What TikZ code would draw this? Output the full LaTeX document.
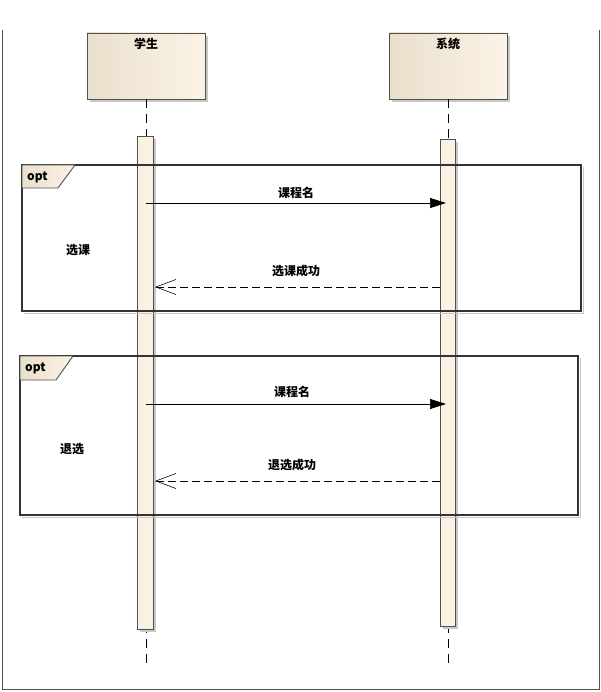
\documentclass[tikz,border=0pt]{standalone}
\usepackage{fontspec}
\newfontfamily\cjk{Noto Sans CJK SC}
\usetikzlibrary{arrows.meta}
\definecolor{hdrL}{HTML}{EADFCC}
\definecolor{hdrR}{HTML}{FBF3E6}
\definecolor{barfill}{HTML}{FBF1E2}
\definecolor{shadowc}{HTML}{C8C8C8}
\definecolor{framec}{HTML}{505050}
\tikzset{
  txt/.style={font=\cjk\bfseries\fontsize{12}{14}\selectfont, inner sep=0pt},
  hdr/.style={draw=framec, line width=0.9pt, left color=hdrL, right color=hdrR,
    minimum width=118pt, minimum height=66pt, inner sep=0pt},
  actbar/.style={draw=framec, line width=0.9pt, fill=barfill, minimum width=16pt, inner sep=0pt},
  lifeline/.style={dashed, dash pattern=on 9pt off 6pt, line width=0.7pt},
  frag/.style={draw=black!80, line width=1.3pt},
  tab/.style={draw=framec, line width=0.9pt, left color=hdrL, right color=hdrR},
  callmsg/.style={line width=0.7pt, -{Triangle[length=16pt,width=10pt]}},
  retmsg/.style={line width=0.7pt, dash pattern=on 8pt off 4pt, -{Straight Barb[length=20pt,width=15pt,line width=0.6pt]}},
}
\begin{document}
\begin{tikzpicture}[x=1pt,y=-1pt]
\useasboundingbox (0,0) rectangle (601,692);
% outer frame
\draw[framec, line width=1pt] (2,30) -- (2,689) -- (599,689) -- (599,30);
% header shadows
\fill[shadowc] (90,36) rectangle (208,102);
\fill[shadowc] (392,36) rectangle (510,102);
% headers
\node[hdr] (stu) at (146,66) {};
\node[txt, below=5pt] (stulbl) at (stu.north) {学生};
\node[hdr] (sys) at (448,66) {};
\node[txt, below=5pt] (syslbl) at (sys.north) {系统};
% lifelines
\coordinate (stuend) at (146,667);
\coordinate (sysend) at (448,667);
\draw[lifeline] (stu.south) -- (stuend);
\draw[lifeline] (sys.south) -- (sysend);
% activation shadows
\fill[shadowc] (140,139) rectangle (156,632);
\fill[shadowc] (443,142) rectangle (458,629);
% activation bars
\node[actbar, minimum height=493pt] (stubar) at (145,382.5) {};
\node[actbar, minimum width=15pt, minimum height=487pt] (sysbar) at (447.5,382.5) {};
% fragment 1
\draw[shadowc, line width=0.8pt] (24,313) -- (583,313) -- (583,167);
\draw[frag] (22,165) rectangle (581,311);
\draw[tab] (22,165) -- (75,165) -- (58,188) -- (22,188) -- cycle;
\node[txt, anchor=west] (opt1) at (27,177) {opt};
\node[txt] (g1) at (78,250) {选课};
% fragment 2
\draw[shadowc, line width=0.8pt] (22,517) -- (580,517) -- (580,358);
\draw[frag] (20,356) rectangle (578,515);
\draw[tab] (20,356) -- (73,356) -- (56,380) -- (20,380) -- cycle;
\node[txt, anchor=west] (opt2) at (25,368) {opt};
\node[txt] (g2) at (72,449) {退选};
% messages 1
\coordinate (m1s) at (146,203);
\coordinate (m1e) at (446,203);
\draw[callmsg] (m1s) -- (m1e);
\node[txt] (l1) at (296,193) {课程名};
\coordinate (r1s) at (440,287);
\coordinate (r1e) at (155,287);
\draw[retmsg] (r1s) -- (r1e);
\node[txt] (l2) at (296,271) {选课成功};
% messages 2
\coordinate (m2s) at (146,404);
\coordinate (m2e) at (446,404);
\draw[callmsg] (m2s) -- (m2e);
\node[txt] (l3) at (292,392) {课程名};
\coordinate (r2s) at (440,481);
\coordinate (r2e) at (155,481);
\draw[retmsg] (r2s) -- (r2e);
\node[txt] (l4) at (292,465) {退选成功};
\end{tikzpicture}
\end{document}
